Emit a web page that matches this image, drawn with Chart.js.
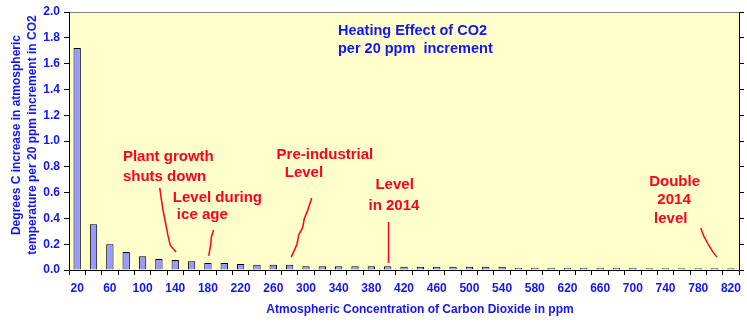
<!DOCTYPE html>
<html>
<head>
  <title>Heating Effect of CO2</title>
  <script src="https://cdn.jsdelivr.net/npm/chart.js"></script>
  <style>
    body { margin: 0; background: #fff; }
    canvas { display: block; }
  </style>
</head>
<body>
  <canvas id="co2Chart" width="747" height="325"></canvas>
  <script>
    // CO2 concentration in ppm, one bar per 20 ppm step
    const ppmLevels = [];
    for (let p = 20; p <= 820; p += 20) ppmLevels.push(String(p));

    // warming (deg C) added by each 20 ppm increment
    const warming = [
      1.72, 0.355, 0.20, 0.14, 0.107, 0.085, 0.077, 0.068, 0.055, 0.055,
      0.047, 0.04, 0.04, 0.04, 0.03, 0.03, 0.03, 0.03, 0.03, 0.03,
      0.025, 0.025, 0.025, 0.025, 0.025, 0.025, 0.025, 0.018, 0.018, 0.018,
      0.018, 0.018, 0.018, 0.018, 0.018, 0.014, 0.014, 0.014, 0.014, 0.014, 0.014
    ];

    const yTicks = { min: 0, max: 2, step: 0.2 };

    // red notes: text lines at [ppm, degC], pointer path as [ppm, degC] points
    const notes = [
      { lines: [['Plant growth', 76, 0.876], ['shuts down', 76, 0.72]],
        path: [[121, 0.636], [123, 0.55], [125, 0.465], [128, 0.37], [131, 0.27], [134, 0.19], [141, 0.14]] },
      { lines: [['Level during', 137, 0.558], ['ice age', 142, 0.426]],
        path: [[187, 0.31], [184, 0.25], [183.5, 0.2], [181, 0.11]] },
      { lines: [['Pre-industrial', 264, 0.89], ['Level', 274, 0.75]],
        path: [[307, 0.558], [302, 0.46], [298, 0.4], [296, 0.33], [291, 0.27], [289, 0.2], [282, 0.1]] },
      { lines: [['Level', 385, 0.66], ['in 2014', 376.5, 0.496]],
        path: [[401, 0.372], [401, 0.054]] },
      { lines: [['Double', 720, 0.68], ['2014', 730, 0.54], ['level', 726, 0.40]],
        path: [[783, 0.326], [787, 0.26], [793, 0.19], [798, 0.14], [803, 0.10]] }
    ];

    const blue = '#1414f5';
    const font = 'bold 12px "Liberation Sans", Arial, sans-serif';

    const plotDecor = {
      id: 'plotDecor',
      beforeDraw(chart) {
        const { ctx, chartArea: a } = chart;
        ctx.save();
        ctx.fillStyle = '#ffffcc';
        ctx.fillRect(a.left, a.top, a.right - a.left, a.bottom - a.top);
        ctx.strokeStyle = '#808080';
        ctx.lineWidth = 1;
        ctx.beginPath();
        ctx.moveTo(a.left, a.top + 0.5);
        ctx.lineTo(a.right, a.top + 0.5);
        ctx.stroke();
        ctx.restore();
      },
      afterDraw(chart) {
        const { ctx, chartArea: a, scales } = chart;
        const px = ppm => scales.x.getPixelForValue(ppm / 20 - 1);
        const py = v => scales.y.getPixelForValue(v);
        ctx.save();

        // chart heading inside the plot
        ctx.fillStyle = blue;
        ctx.font = 'bold 14.5px "Liberation Sans", Arial, sans-serif';
        ctx.textBaseline = 'middle';
        ctx.textAlign = 'left';
        ctx.fillText('Heating Effect of CO2', a.left + 269, a.top + 19);
        ctx.fillText('per 20 ppm  increment', a.left + 269, a.top + 37);

        // x axis title
        ctx.font = font;
        ctx.textAlign = 'center';
        ctx.fillText('Atmospheric Concentration of Carbon Dioxide in ppm', a.left + 351, a.bottom + 40);

        // y axis title, two rotated lines
        ctx.save();
        ctx.translate(17, (a.top + a.bottom) / 2 - 6);
        ctx.rotate(-Math.PI / 2);
        ctx.fillText('Degrees C increase in atmospheric', 0, 0);
        ctx.fillText('temperature per 20 ppm increment in CO2', 0, 16);
        ctx.restore();

        // annotations
        ctx.fillStyle = '#ff0022';
        ctx.strokeStyle = '#ff0022';
        ctx.font = 'bold 15px "Liberation Sans", Arial, sans-serif';
        ctx.textAlign = 'left';
        ctx.lineWidth = 1.5;
        notes.forEach(n => {
          n.lines.forEach(([t, p, v]) => ctx.fillText(t, px(p), py(v)));
          ctx.beginPath();
          n.path.forEach(([p, v], i) => i ? ctx.lineTo(px(p), py(v)) : ctx.moveTo(px(p), py(v)));
          ctx.stroke();
        });
        ctx.restore();
      }
    };

    new Chart(document.getElementById('co2Chart'), {
      type: 'bar',
      data: {
        labels: ppmLevels,
        datasets: [{
          data: warming,
          backgroundColor: '#9999ff',
          borderColor: '#000000',
          borderWidth: 1,
          categoryPercentage: 1,
          barPercentage: 0.45
        }]
      },
      options: {
        responsive: false,
        animation: false,
        layout: { padding: { top: 12, right: 0, left: 0, bottom: 0 } },
        plugins: { legend: { display: false }, tooltip: { enabled: false } },
        scales: {
          x: {
            offset: true,
            grid: { offset: true, drawOnChartArea: false, color: '#000', tickLength: 5 },
            border: { color: '#000' },
            ticks: {
              autoSkip: false,
              maxRotation: 0,
              padding: 6,
              color: blue,
              font: { family: '"Liberation Sans", Arial, sans-serif', size: 12, weight: 'bold' },
              callback: (v, i) => i % 2 === 0 ? ppmLevels[i] : ''
            },
            afterFit: s => { s.height = 55; }
          },
          y: {
            min: yTicks.min,
            max: yTicks.max,
            grid: { drawOnChartArea: false, color: '#000', tickLength: 5 },
            border: { color: '#000' },
            ticks: {
              stepSize: yTicks.step,
              padding: 4,
              color: blue,
              font: { family: '"Liberation Sans", Arial, sans-serif', size: 12, weight: 'bold' },
              callback: v => v.toFixed(1)
            },
            afterFit: s => { s.width = 69; }
          },
          y2: {
            position: 'right',
            min: yTicks.min,
            max: yTicks.max,
            grid: { drawOnChartArea: false, color: '#000', tickLength: 5 },
            border: { color: '#000' },
            ticks: { stepSize: yTicks.step, display: false },
            afterFit: s => { s.width = 7; }
          }
        }
      },
      plugins: [plotDecor]
    });
  </script>
</body>
</html>
